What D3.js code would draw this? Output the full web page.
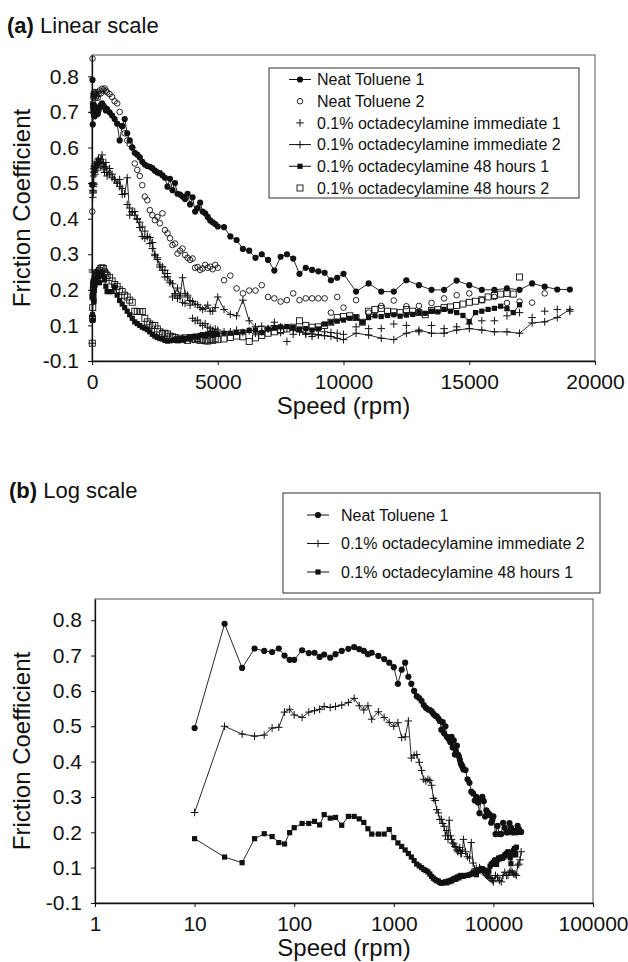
<!DOCTYPE html>
<html>
<head>
<meta charset="utf-8">
<script src="https://cdn.jsdelivr.net/npm/d3@7"></script>
<style>
  body { margin: 0; background: #fff; }
  svg text { font-family: "Liberation Sans", Arial, sans-serif; fill: #111; }
</style>
</head>
<body>
<svg id="chart" width="628" height="962"></svg>
<script>
// speed schedules (rpm)
const speedsA = [
  10, 20, 30, 40, 50, 60, 70, 80, 90, 100, 120, 140, 160, 180, 200, 230, 260, 300, 350, 400, 450, 500, 550, 600, 700, 800, 900, 1000,
  1100, 1200, 1300, 1400, 1500, 1600, 1700, 1800, 1900, 2000, 2100, 2200, 2300, 2400, 2500, 2600, 2700, 2800, 2900, 3000,
  3100, 3200, 3300, 3400, 3500, 3600, 3700, 3800, 3900, 4000, 4100, 4200, 4300, 4400, 4500, 4600, 4700, 4800, 4900, 5000,
  5250, 5500, 5750, 6000, 6250, 6500, 6750, 7000, 7250, 7500, 7750, 8000, 8250, 8500, 8750, 9000, 9250, 9500, 9750, 10000,
  10500, 11000, 11500, 12000, 12500, 13000, 13500, 14000, 14500, 15000, 15500, 16000, 16500, 17000, 17500, 18000, 18500, 19000
];
const speedsB = [
  10, 20, 30, 40, 50, 60, 70, 80, 90, 100, 120, 140, 160, 180, 200, 230, 260, 300, 350, 400, 450, 500, 550, 600, 700, 800, 900, 1000,
  1100, 1200, 1300, 1400, 1500, 1600, 1700, 1800, 1900, 2000, 2100, 2200, 2300, 2400, 2500, 2600, 2700, 2800, 2900, 3000,
  3100, 3200, 3300, 3400, 3500, 3600, 3700, 3800, 3900, 4000, 4100, 4200, 4300, 4400, 4500, 4600, 4700, 4800, 4900, 5000,
  5250, 5500, 5750, 6000, 6250, 6500, 6750, 7000, 7250, 7500, 7750, 8000, 8250, 8500, 8750, 9000, 9250, 9500, 9750, 10000,
  10250, 10500, 10750, 11000, 11250, 11500, 11750, 12000, 12250, 12500, 12750, 13000, 13250, 13500, 13750, 14000,
  14250, 14500, 14750, 15000, 15250, 15500, 15750, 16000, 16250, 16500, 16750, 17000
];

// friction coefficients
const neatToluene1 = [
  0.495, 0.79, 0.665, 0.72, 0.713, 0.71, 0.72, 0.70, 0.688, 0.688, 0.715, 0.707, 0.708, 0.696, 0.703, 0.694, 0.704, 0.713, 0.719, 0.724, 0.718, 0.713, 0.704, 0.708, 0.699, 0.69, 0.68, 0.667,
  0.62, 0.66, 0.68, 0.64, 0.62, 0.60, 0.585, 0.58, 0.572, 0.56, 0.552, 0.548, 0.546, 0.542, 0.535, 0.53, 0.528, 0.522, 0.515, 0.49,
  0.512, 0.48, 0.50, 0.47, 0.468, 0.462, 0.455, 0.47, 0.44, 0.46, 0.42, 0.43, 0.445, 0.42, 0.415, 0.405, 0.395, 0.39, 0.385, 0.378,
  0.376, 0.35, 0.34, 0.315, 0.31, 0.29, 0.30, 0.284, 0.254, 0.293, 0.30, 0.288, 0.245, 0.262, 0.256, 0.252, 0.248, 0.227, 0.234, 0.245,
  0.195, 0.218, 0.195, 0.195, 0.227, 0.213, 0.20, 0.20, 0.226, 0.213, 0.20, 0.20, 0.204, 0.20, 0.218, 0.209, 0.201, 0.201
];
const neatToluene2 = [
  0.42, 0.85, 0.70, 0.725, 0.74, 0.75, 0.745, 0.755, 0.75, 0.745, 0.756, 0.75, 0.74, 0.745, 0.755, 0.74, 0.75, 0.76, 0.752, 0.765, 0.76, 0.766, 0.76, 0.755, 0.75, 0.742, 0.73, 0.724,
  0.70, 0.66, 0.64, 0.62, 0.61, 0.60, 0.555, 0.537, 0.52, 0.494, 0.462, 0.452, 0.424, 0.41, 0.396, 0.405, 0.387, 0.415, 0.368, 0.359,
  0.345, 0.326, 0.33, 0.302, 0.31, 0.316, 0.298, 0.29, 0.284, 0.288, 0.262, 0.264, 0.256, 0.26, 0.27, 0.262, 0.265, 0.258, 0.27, 0.262,
  0.227, 0.24, 0.204, 0.19, 0.198, 0.198, 0.213, 0.18, 0.176, 0.167, 0.171, 0.19, 0.171, 0.176, 0.176, 0.176, 0.176, 0.136, 0.18, 0.15,
  0.171, 0.136, 0.155, 0.17, 0.154, 0.155, 0.163, 0.176, 0.185, 0.19, 0.171, 0.18, 0.163, 0.167, 0.164, 0.19
];
const immediate1 = [
  0.05, 0.25, 0.46, 0.48, 0.49, 0.50, 0.52, 0.53, 0.54, 0.545, 0.55, 0.535, 0.55, 0.56, 0.555, 0.565, 0.57, 0.56, 0.545, 0.555, 0.54, 0.53, 0.545, 0.53, 0.525, 0.515, 0.51, 0.50,
  0.49, 0.485, 0.47, 0.44, 0.43, 0.42, 0.41, 0.40, 0.39, 0.377, 0.365, 0.35, 0.33, 0.316, 0.30, 0.285, 0.27, 0.265, 0.255, 0.246,
  0.22, 0.18, 0.185, 0.176, 0.185, 0.165, 0.162, 0.185, 0.157, 0.12, 0.113, 0.115, 0.106, 0.10, 0.105, 0.095, 0.092, 0.087, 0.09, 0.087,
  0.082, 0.082, 0.087, 0.08, 0.085, 0.078, 0.082, 0.09, 0.109, 0.08, 0.055, 0.075, 0.082, 0.075, 0.069, 0.074, 0.082, 0.08, 0.078, 0.075,
  0.096, 0.091, 0.091, 0.104, 0.10, 0.082, 0.10, 0.091, 0.096, 0.104, 0.113, 0.113, 0.127, 0.136, 0.122, 0.14, 0.145, 0.14
];
const immediate2 = [
  0.256, 0.50, 0.478, 0.472, 0.475, 0.495, 0.497, 0.54, 0.548, 0.532, 0.525, 0.54, 0.544, 0.548, 0.556, 0.553, 0.556, 0.56, 0.567, 0.579, 0.558, 0.546, 0.558, 0.52, 0.541, 0.525, 0.511, 0.50,
  0.51, 0.468, 0.47, 0.515, 0.41, 0.418, 0.42, 0.398, 0.375, 0.35, 0.345, 0.35, 0.347, 0.333, 0.296, 0.29, 0.264, 0.255, 0.236, 0.237,
  0.225, 0.217, 0.19, 0.205, 0.18, 0.234, 0.19, 0.18, 0.17, 0.167, 0.16, 0.158, 0.15, 0.145, 0.148, 0.157, 0.14, 0.14, 0.15, 0.18,
  0.145, 0.131, 0.127, 0.171, 0.113, 0.096, 0.098, 0.091, 0.10, 0.096, 0.092, 0.087, 0.082, 0.078, 0.076, 0.073, 0.071, 0.069, 0.064, 0.06,
  0.078, 0.073, 0.064, 0.06, 0.078, 0.087, 0.078, 0.078, 0.087, 0.091, 0.087, 0.082, 0.082, 0.078, 0.107, 0.11, 0.122, 0.145
];
const hours48_1 = [
  0.182, 0.13, 0.114, 0.182, 0.196, 0.188, 0.171, 0.167, 0.199, 0.213, 0.225, 0.225, 0.231, 0.221, 0.25, 0.24, 0.242, 0.22, 0.245, 0.245, 0.238, 0.228, 0.21, 0.195, 0.195, 0.195, 0.208, 0.185,
  0.17, 0.16, 0.15, 0.14, 0.13, 0.12, 0.11, 0.105, 0.10, 0.095, 0.092, 0.088, 0.082, 0.075, 0.07, 0.066, 0.063, 0.062, 0.058, 0.056,
  0.057, 0.058, 0.06, 0.057, 0.062, 0.06, 0.064, 0.062, 0.066, 0.068, 0.07, 0.067, 0.072, 0.074, 0.071, 0.076, 0.078, 0.075, 0.077, 0.076,
  0.078, 0.078, 0.08, 0.082, 0.086, 0.087, 0.08, 0.09, 0.092, 0.096, 0.097, 0.094, 0.09, 0.091, 0.087, 0.09, 0.104, 0.109, 0.112, 0.115,
  0.12, 0.122, 0.109, 0.122, 0.127, 0.125, 0.128, 0.13, 0.126, 0.129, 0.131, 0.136, 0.134, 0.14, 0.138, 0.145,
  0.14, 0.136, 0.128, 0.111, 0.136, 0.14, 0.145, 0.148, 0.154, 0.147, 0.136, 0.158
];
const hours48_2 = [
  0.05, 0.12, 0.15, 0.18, 0.20, 0.21, 0.22, 0.215, 0.22, 0.225, 0.23, 0.235, 0.24, 0.245, 0.23, 0.24, 0.25, 0.255, 0.26, 0.262, 0.26, 0.25, 0.245, 0.24, 0.235, 0.225, 0.215, 0.21,
  0.20, 0.195, 0.185, 0.18, 0.171, 0.165, 0.14, 0.139, 0.139, 0.139, 0.12, 0.11, 0.104, 0.10, 0.10, 0.09, 0.082, 0.078, 0.078, 0.076,
  0.07, 0.068, 0.066, 0.06, 0.064, 0.06, 0.065, 0.058, 0.066, 0.062, 0.06, 0.063, 0.058, 0.06, 0.057, 0.056, 0.06, 0.058, 0.062, 0.06,
  0.062, 0.066, 0.07, 0.068, 0.055, 0.065, 0.072, 0.078, 0.082, 0.085, 0.09, 0.095, 0.113, 0.10, 0.095, 0.096, 0.10, 0.109, 0.122, 0.125,
  0.127, 0.122, 0.109, 0.14, 0.145, 0.148, 0.14, 0.138, 0.136, 0.145, 0.14, 0.136, 0.13, 0.142, 0.145, 0.15,
  0.152, 0.156, 0.16, 0.165, 0.168, 0.172, 0.18, 0.184, 0.188, 0.19, 0.188, 0.236
];

// axis ticks: the bottom tick of the original axis is labelled "-0.1"
const yTicks = [0, 0.1, 0.2, 0.3, 0.4, 0.5, 0.6, 0.7, 0.8];
const yTickLabels = ["-0.1", "0.1", "0.2", "0.3", "0.4", "0.5", "0.6", "0.7", "0.8"];
const xTicksLinear = [0, 5000, 10000, 15000, 20000];
const xTicksLog = [1, 10, 100, 1000, 10000, 100000];

const seriesA = [
  { name: "Neat Toluene 1", speeds: speedsA, values: neatToluene1, marker: "dot", line: true },
  { name: "Neat Toluene 2", speeds: speedsA, values: neatToluene2, marker: "ring", line: false },
  { name: "0.1% octadecylamine immediate 1", speeds: speedsA, values: immediate1, marker: "plus", line: false },
  { name: "0.1% octadecylamine immediate 2", speeds: speedsA, values: immediate2, marker: "plus", line: true },
  { name: "0.1% octadecylamine 48 hours 1", speeds: speedsB, values: hours48_1, marker: "block", line: true },
  { name: "0.1% octadecylamine 48 hours 2", speeds: speedsB, values: hours48_2, marker: "box", line: false },
];
const seriesB = [seriesA[0], seriesA[3], seriesA[4]];

const svg = d3.select("#chart");
const ink = "#111";

function points(s) {
  return s.values.map((v, i) => ({ x: s.speeds[i], y: v }));
}

function drawMarker(sel, type) {
  if (type === "dot") {
    sel.append("circle").attr("r", 3.1).attr("fill", ink);
  } else if (type === "ring") {
    sel.append("circle").attr("r", 2.8).attr("fill", "none").attr("stroke", ink).attr("stroke-width", 0.9);
  } else if (type === "plus") {
    sel.append("path").attr("d", "M-3.8,0H3.8M0,-3.8V3.8").attr("stroke", ink).attr("stroke-width", 1);
  } else if (type === "block") {
    sel.append("rect").attr("x", -2.6).attr("y", -2.6).attr("width", 5.2).attr("height", 5.2).attr("fill", ink);
  } else if (type === "box") {
    sel.append("rect").attr("x", -3).attr("y", -3).attr("width", 6).attr("height", 6)
      .attr("fill", "none").attr("stroke", ink).attr("stroke-width", 0.9);
  }
}

function drawPanel(p) {
  const g = svg.append("g");
  const x = p.x;
  const y = d3.scaleLinear().domain([0, 0.86]).range([p.bottom, p.top]);

  // title
  const t = g.append("text").attr("x", p.titleX).attr("y", p.titleY).attr("font-size", 22);
  t.append("tspan").attr("font-weight", "bold").text(p.tag);
  t.append("tspan").text(" " + p.title);

  // plot frame
  g.append("rect")
    .attr("x", p.left).attr("y", p.top)
    .attr("width", p.right - p.left).attr("height", p.bottom - p.top)
    .attr("fill", "none").attr("stroke", "#555").attr("stroke-width", 1);

  // axes
  const ya = g.append("g").attr("transform", `translate(${p.left},0)`)
    .call(d3.axisLeft(y).tickValues(yTicks).tickFormat((d, i) => yTickLabels[i]).tickSize(4).tickSizeOuter(0).tickPadding(9));
  const xa = g.append("g").attr("transform", `translate(0,${p.bottom})`)
    .call(d3.axisBottom(x).tickValues(p.xTicks).tickFormat(d => String(d)).tickSize(4).tickSizeOuter(0).tickPadding(9));
  for (const a of [ya, xa]) {
    a.select(".domain").attr("stroke", ink).attr("stroke-width", 1.3);
    a.selectAll(".tick line").attr("stroke", ink);
    a.selectAll(".tick text").attr("font-size", 21).attr("fill", ink);
  }

  g.append("text").attr("x", (p.left + p.right) / 2).attr("y", p.xTitleY)
    .attr("text-anchor", "middle").attr("font-size", 24).text("Speed (rpm)");
  g.append("text").attr("transform", `translate(30,${(p.top + p.bottom) / 2}) rotate(-90)`)
    .attr("text-anchor", "middle").attr("font-size", 24).text("Friction Coefficient");

  // series
  const line = d3.line().x(d => x(d.x)).y(d => y(d.y));
  for (const s of p.series) {
    const pts = points(s);
    if (s.line) {
      g.append("path").attr("d", line(pts)).attr("fill", "none").attr("stroke", ink).attr("stroke-width", 0.9);
    }
    const m = g.append("g").selectAll("g").data(pts).join("g")
      .attr("transform", d => `translate(${x(d.x)},${y(d.y)})`);
    drawMarker(m, s.marker);
  }

  // legend
  const L = p.legend;
  g.append("rect").attr("x", L.x).attr("y", L.y).attr("width", L.w).attr("height", L.h)
    .attr("fill", "#fff").attr("stroke", "#333").attr("stroke-width", 1);
  p.series.forEach((s, i) => {
    const ry = L.rowY + i * L.rowH;
    const row = g.append("g").attr("transform", `translate(${L.symX},${ry})`);
    if (s.line) row.append("path").attr("d", "M-11,0H11").attr("stroke", ink).attr("stroke-width", 1);
    drawMarker(row, s.marker);
    g.append("text").attr("x", L.textX).attr("y", ry).attr("dy", "0.36em").attr("font-size", 16).text(s.name);
  });
}

drawPanel({
  tag: "(a)", title: "Linear scale", titleX: 7, titleY: 33,
  left: 92, right: 595, top: 55, bottom: 361,
  x: d3.scaleLinear().domain([0, 20000]).range([92, 595]),
  xTicks: xTicksLinear, xTitleY: 414,
  series: seriesA,
  legend: { x: 269, y: 68, w: 310, h: 130, rowY: 79.5, rowH: 21.7, symX: 300, textX: 317 },
});

drawPanel({
  tag: "(b)", title: "Log scale", titleX: 9, titleY: 498,
  left: 95, right: 593, top: 599, bottom: 903,
  x: d3.scaleLog().domain([1, 100000]).range([95, 593]),
  xTicks: xTicksLog, xTitleY: 956,
  series: seriesB,
  legend: { x: 283, y: 493, w: 317, h: 100, rowY: 515, rowH: 28.5, symX: 318, textX: 341 },
});
</script>
</body>
</html>
